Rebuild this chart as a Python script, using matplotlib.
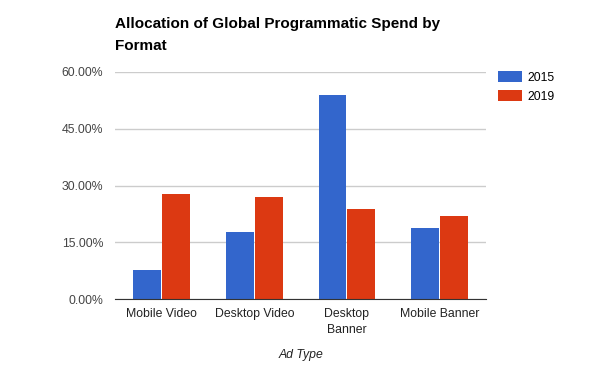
import numpy as np
import matplotlib.pyplot as plt
from matplotlib.ticker import FuncFormatter

plt.rcParams['font.family'] = ['Liberation Sans', 'DejaVu Sans']

categories = ["Mobile Video", "Desktop Video", "Desktop\nBanner", "Mobile Banner"]
share_2015 = [7.7, 17.7, 53.9, 18.8]
share_2019 = [27.8, 27.0, 23.8, 22.0]
y_ticks = [0, 15, 30, 45, 60]

fig = plt.figure(figsize=(6, 3.71), dpi=100)
ax = fig.add_axes([0.192, 0.193, 0.618, 0.614])

x = np.arange(len(categories))
w = 0.30
ax.bar(x - w/2 - 0.005, share_2015, w, color="#3366cc", label="2015", zorder=3)
ax.bar(x + w/2 + 0.005, share_2019, w, color="#dc3912", label="2019", zorder=3)

ax.set_xlim(-0.5, 3.5)
ax.set_ylim(0, 60)
ax.set_yticks(y_ticks)
ax.yaxis.set_major_formatter(FuncFormatter(lambda v, p: "%.2f%%" % v))
ax.grid(axis="y", color="#cccccc", linewidth=1, zorder=0)
ax.set_xticks(x)
ax.set_xticklabels(categories, linespacing=1.35)
ax.tick_params(length=0, labelsize=8.8, colors="#444444")
ax.tick_params(axis="x", pad=6.5, colors="#222222")
ax.tick_params(axis="y", pad=8.5)
for s in ["top", "right", "left"]:
    ax.spines[s].set_visible(False)
ax.spines["bottom"].set_color("#333333")
ax.spines["bottom"].set_zorder(4)

ax.set_xlabel("Ad Type", fontsize=8.8, style="italic", color="#222222", labelpad=9.5)

fig.text(0.192, 0.856, "Allocation of Global Programmatic Spend by\nFormat",
         fontsize=11, fontweight="bold", color="#000000", va="bottom", linespacing=1.75)

ax.legend(loc="upper left", bbox_to_anchor=(0.8295, 0.8086), bbox_transform=fig.transFigure,
          frameon=False, fontsize=8.8, handlelength=1.97, handleheight=1.0,
          handletextpad=0.47, labelspacing=0.55, borderpad=0, borderaxespad=0)

fig.savefig("out.png", dpi=100)
